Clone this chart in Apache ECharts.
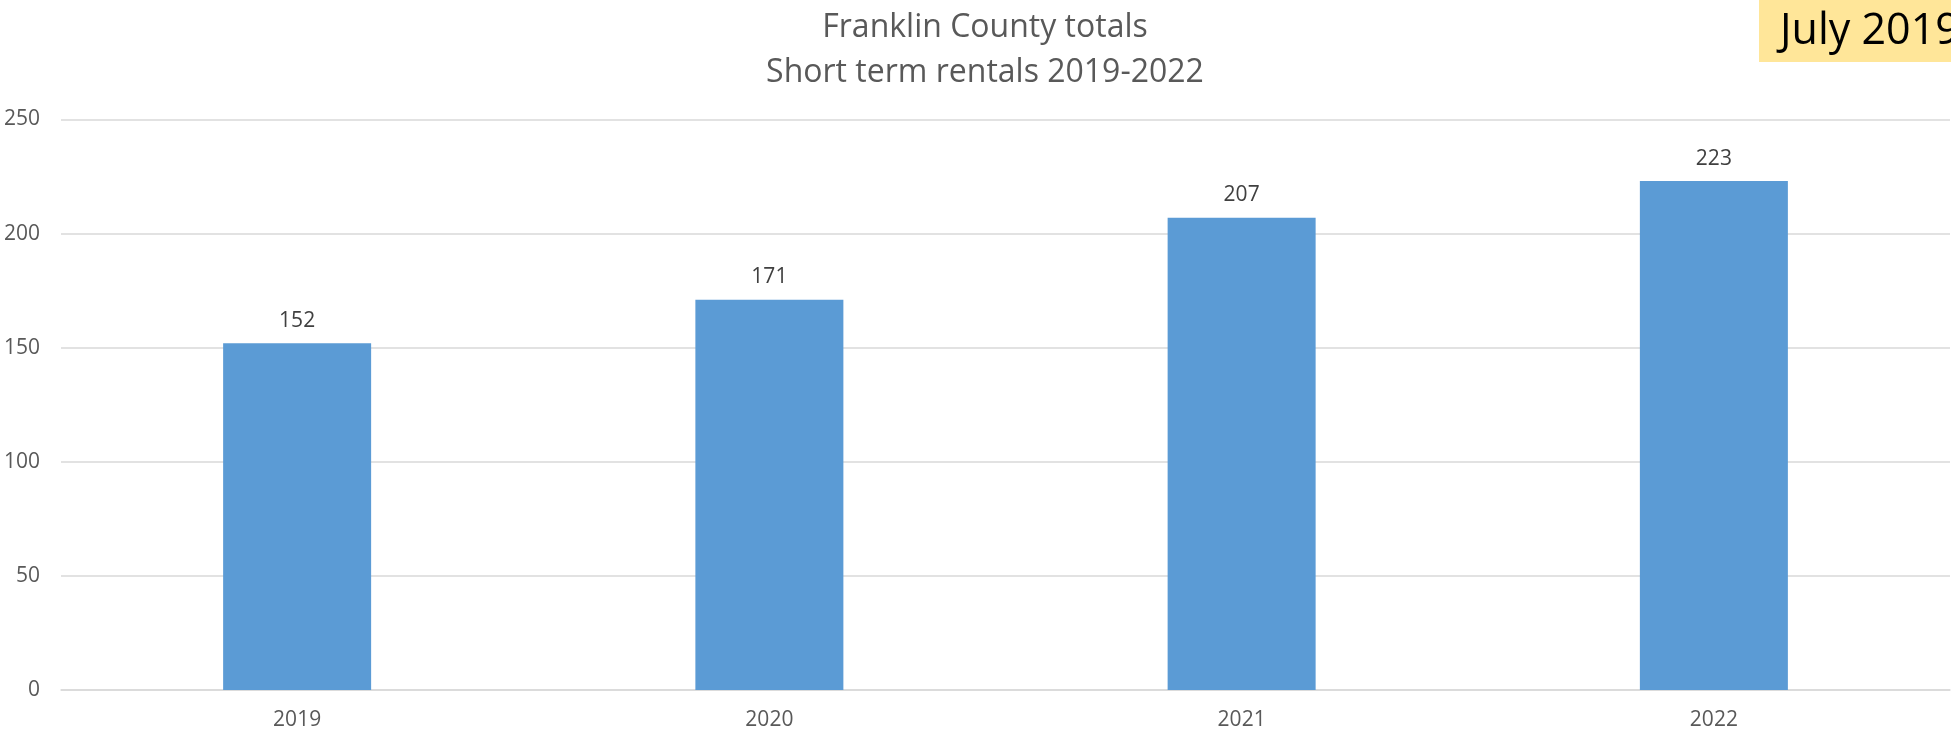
<!DOCTYPE html>
<html>
<head>
<meta charset="utf-8">
<script src="https://cdn.jsdelivr.net/npm/echarts@6/dist/echarts.min.js"></script>
<style>
  html, body { margin: 0; padding: 0; background: #fff; }
  #rentals { width: 1951px; height: 738px; }
</style>
</head>
<body>
<div id="rentals"></div>
<script>
const years = ['2019', '2020', '2021', '2022'];
const rentalTotals = [152, 171, 207, 223];
const yTicks = { min: 0, max: 250, step: 50 };
const titleLines = ['Franklin County totals', 'Short term rentals 2019-2022'];
const badgeText = 'July 2019';

const font = '"Open Sans", "Noto Sans", sans-serif';
const chartDom = document.getElementById('rentals');
let myChart = echarts.init(chartDom);
let option;
option = {
  animation: false,
  textStyle: { fontFamily: font },
  title: {
    text: titleLines.join('\n'),
    left: 980,
    top: 0,
    textAlign: 'center',
    textStyle: {
      color: '#595959',
      fontSize: 32,
      fontWeight: 'normal',
      lineHeight: 45,
      fontFamily: font
    }
  },
  graphic: [
    {
      type: 'rect',
      shape: { x: 1759, y: 0, width: 200, height: 62 },
      style: { fill: '#FFE699' },
      silent: true
    },
    {
      type: 'text',
      x: 1780,
      y: 32,
      style: {
        text: badgeText,
        fill: '#000',
        fontSize: 43,
        fontFamily: font,
        verticalAlign: 'middle'
      },
      silent: true
    }
  ],
  grid: {
    left: 61,
    right: 1,
    top: 119.5,
    bottom: 48
  },
  xAxis: {
    type: 'category',
    data: years,
    axisTick: { show: false },
    axisLine: { lineStyle: { color: '#D9D9D9', width: 1.5 } },
    axisLabel: { color: '#595959', fontSize: 21, margin: 20, fontFamily: font }
  },
  yAxis: {
    type: 'value',
    min: yTicks.min,
    max: yTicks.max,
    interval: yTicks.step,
    axisLine: { show: false },
    axisTick: { show: false },
    splitLine: { lineStyle: { color: '#D9D9D9', width: 1.5 } },
    axisLabel: { color: '#595959', fontSize: 21, margin: 21, fontFamily: font }
  },
  series: [
    {
      name: 'Short term rentals',
      type: 'bar',
      data: rentalTotals,
      barWidth: 148,
      itemStyle: { color: '#5B9BD5' },
      label: {
        show: true,
        position: 'top',
        distance: 12,
        color: '#404040',
        fontSize: 21,
        fontFamily: font
      }
    }
  ]
};
option && myChart.setOption(option);
</script>
</body>
</html>
